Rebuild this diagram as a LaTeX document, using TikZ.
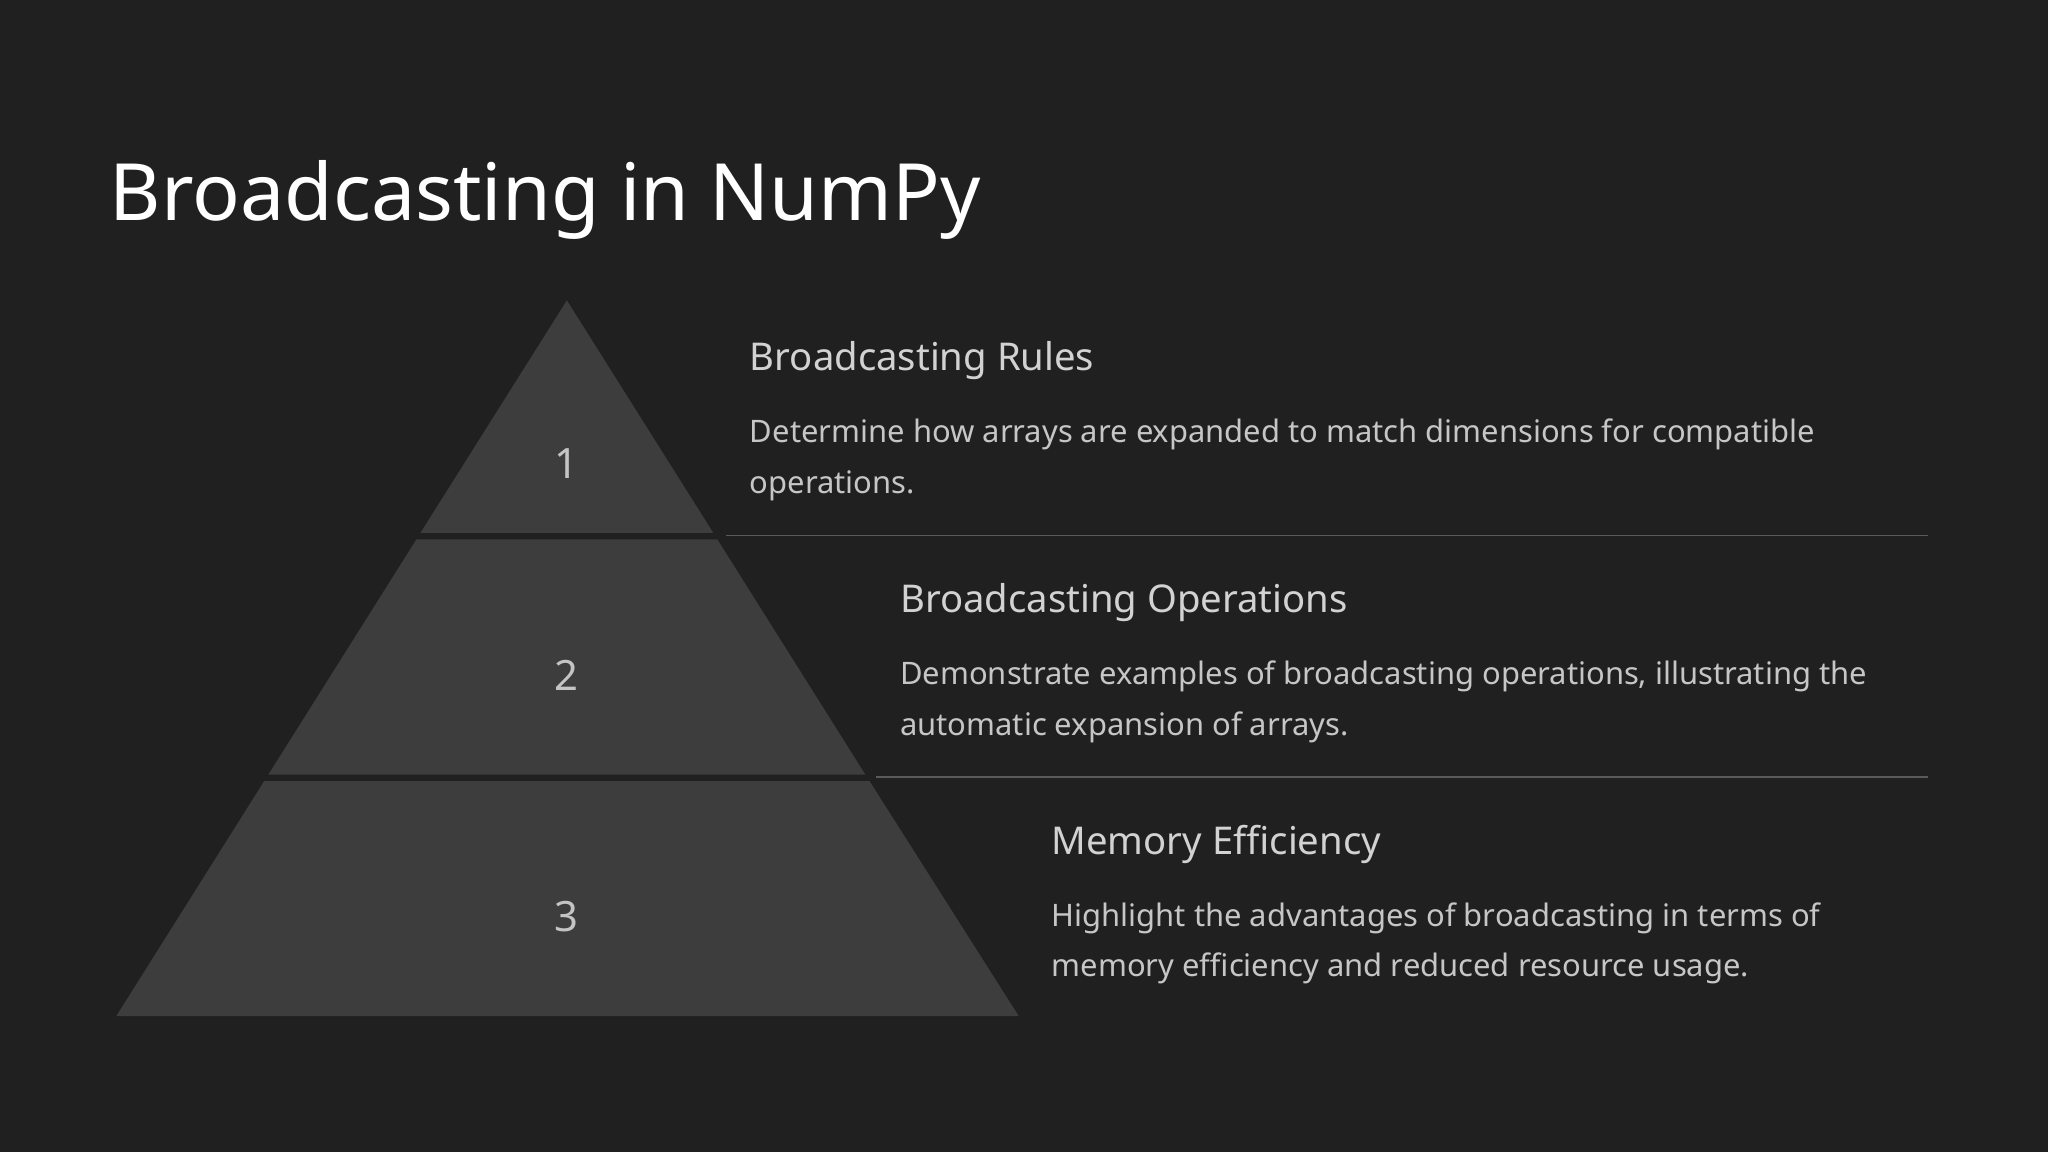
\documentclass[tikz,border=0pt]{standalone}
\usepackage{fontspec}
\setmainfont{Noto Sans}
\begin{document}
\begin{tikzpicture}[x=1pt,y=-1pt,
 tier/.style={fill=tri,draw=none},
 num/.style={text=numc,font=\fontsize{32}{38}\selectfont},
 head/.style={anchor=base west,inner sep=0pt,text=headc,font=\fontsize{29.3}{34}\selectfont},
 body/.style={anchor=base west,inner sep=0pt,text=bodyc,font=\fontsize{23.7}{39}\selectfont,align=left},
 sep/.style={draw=sepc,line width=1.3pt}]
\definecolor{bg}{HTML}{202020}\definecolor{tri}{HTML}{3D3D3D}
\definecolor{numc}{HTML}{C4C4C4}\definecolor{headc}{HTML}{D2D2D2}
\definecolor{bodyc}{HTML}{C6C6C6}\definecolor{sepc}{HTML}{5A5A5A}
\fill[bg] (0,0) rectangle (1568,882);
\useasboundingbox (0,0) rectangle (1568,882);
\node[anchor=base west,inner sep=0pt,text=white,font=\fontsize{60.5}{66}\selectfont] (title) at (84,169) {Broadcasting in NumPy};
\fill[tier] (434,230) -- (546.1,408) -- (321.9,408) -- cycle;
\fill[tier] (318.8,413) -- (549.2,413) -- (662.5,593) -- (205.5,593) -- cycle;
\fill[tier] (202.3,598) -- (665.7,598) -- (780,778) -- (89,778) -- cycle;
\node[num] (n1) at (434,355) {1};
\node[num] (n2) at (434,517) {2};
\node[num] (n3) at (434,702) {3};
\node[head] (h1) at (574,284) {Broadcasting Rules};
\node[body] (b1) at (574,378) {Determine how arrays are expanded to match dimensions for compatible\\operations.};
\node[head] (h2) at (689,469) {Broadcasting Operations};
\node[body] (b2) at (689,563) {Demonstrate examples of broadcasting operations, illustrating the\\automatic expansion of arrays.};
\node[head] (h3) at (805,654) {Memory Efficiency};
\node[body] (b3) at (805,748) {Highlight the advantages of broadcasting in terms of\\memory efficiency and reduced resource usage.};
\coordinate (s1a) at (556,410);\coordinate (s1b) at (1476,410);
\coordinate (s2a) at (671,595);\coordinate (s2b) at (1476,595);
\draw[sep] (s1a) -- (s1b);
\draw[sep] (s2a) -- (s2b);
\end{tikzpicture}
\end{document}
